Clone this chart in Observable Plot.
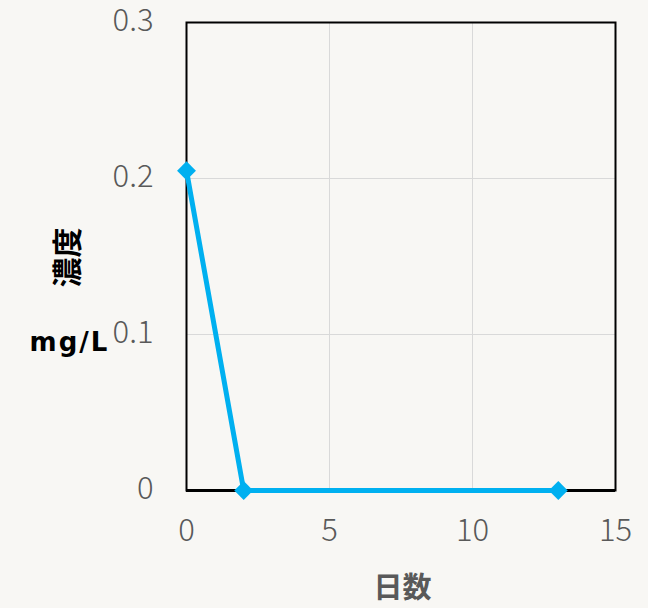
<!DOCTYPE html>
<html>
<head>
<meta charset="utf-8">
<script src="https://cdn.jsdelivr.net/npm/d3@7"></script>
<script src="https://cdn.jsdelivr.net/npm/@observablehq/plot@0.6"></script>
<style>
  html, body { margin: 0; padding: 0; background: #f8f7f4; }
</style>
</head>
<body>
<div id="chart"></div>
<script>
const days = [0, 2, 13];
const conc = [0.205, 0, 0];
const xTicks = [0, 5, 10, 15];
const yTicks = [0, 0.1, 0.2, 0.3];
const yTickLabels = ["0", "0.1", "0.2", "0.3"];
const xLabel = "日数";
const yLabel = "濃度";
const yUnit = "mg/L";

const data = days.map((d, i) => ({day: d, value: conc[i]}));

const chart = Plot.plot({
  width: 648,
  height: 608,
  marginLeft: 186,
  marginRight: 33,
  marginTop: 22,
  marginBottom: 118,
  style: {background: "#f8f7f4", fontFamily: "'Noto Sans CJK JP', 'Noto Sans', sans-serif"},
  x: {domain: [0, 15], ticks: xTicks, label: null},
  y: {domain: [0, 0.3], ticks: yTicks, label: null},
  marks: [
    Plot.gridX([5, 10], {stroke: "#d9d9d9", strokeOpacity: 1, strokeWidth: 1}),
    Plot.gridY([0.1, 0.2], {stroke: "#d9d9d9", strokeOpacity: 1, strokeWidth: 1}),
    Plot.axisX(xTicks, {tickSize: 0, tickPadding: 28, fontSize: 31, fontWeight: 300, fill: "#595959"}),
    Plot.axisY(yTicks, {tickSize: 0, tickPadding: 33, dy: -1, fontSize: 31, fontWeight: 300, fill: "#595959",
      tickFormat: (d) => yTickLabels[yTicks.indexOf(d)]}),
    Plot.frame({stroke: "black", strokeWidth: 2}),
    Plot.ruleY([0], {stroke: "black", strokeWidth: 3}),
    Plot.line(data, {x: "day", y: "value", stroke: "#00b0f0", strokeWidth: 5}),
    Plot.dot(data, {x: "day", y: "value", symbol: "diamond2", r: 8.5, fill: "#00b0f0", stroke: "none"}),
    Plot.text([yLabel], {frameAnchor: "left", textAnchor: "middle", lineAnchor: "middle", dx: -118, dy: 1, rotate: -90,
      fontSize: 30, fontWeight: "bold", fill: "black"}),
    Plot.text([yUnit], {frameAnchor: "left", textAnchor: "middle", lineAnchor: "middle", dx: -117, dy: 86,
      fontSize: 26, fontWeight: "bold", fill: "black", fontFamily: "'DejaVu Sans', sans-serif"}),
    Plot.text([xLabel], {frameAnchor: "bottom", textAnchor: "middle", lineAnchor: "middle", dx: 1.5, dy: 98,
      fontSize: 29, fontWeight: "bold", fill: "#595959"})
  ]
});
d3.select(chart).selectAll("text").filter(function() { return this.textContent === yUnit; })
  .attr("letter-spacing", "2px");
document.getElementById("chart").appendChild(chart);
</script>
</body>
</html>
